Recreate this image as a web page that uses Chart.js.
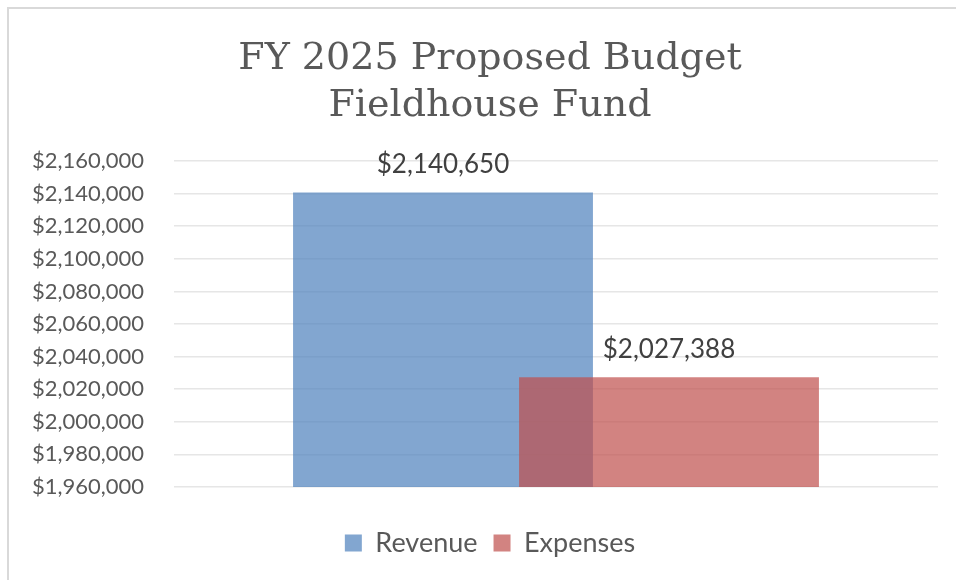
<!DOCTYPE html>
<html>
<head>
<meta charset="utf-8">
<script src="https://cdn.jsdelivr.net/npm/chart.js@4.4.1/dist/chart.umd.min.js"></script>
<style>
  html, body { margin: 0; padding: 0; background: #ffffff; }
  #wrap { position: relative; width: 956px; height: 580px; overflow: hidden; }
  #frame { position: absolute; left: 7px; top: 7px; width: 980px; height: 600px;
           border-left: 2px solid #d9d9d9; border-top: 2px solid #d9d9d9; pointer-events: none; }
  canvas { position: absolute; left: 0; top: 0; }
</style>
</head>
<body>
<div id="wrap">
  <canvas id="c" width="956" height="580"></canvas>
  <div id="frame"></div>
</div>
<script>
// ---- data ----
const categories = ['FY 2025'];
const seriesNames = ['Revenue', 'Expenses'];
const revenueValues = [2140650];
const expenseValues = [2027388];
const titleLines = ['FY 2025 Proposed Budget', 'Fieldhouse Fund'];
const yMin = 1960000;
const yMax = 2160000;
const yStep = 20000;

const fmt = v => '$' + Math.round(v).toLocaleString('en-US');

// let the y tick labels use the space left of the axis box (no clipping)
const widenYLabelArea = {
  id: 'widenYLabelArea',
  afterLayout(chart) {
    chart.scales.y.left = 0;
  }
};

// draw datasets in index order so Expenses sits on top of Revenue
const drawInIndexOrder = {
  id: 'drawInIndexOrder',
  beforeDatasetsDraw(chart) {
    const metas = chart.getSortedVisibleDatasetMetas().slice().sort((a, b) => a.index - b.index);
    const ctx = chart.ctx;
    const area = chart.chartArea;
    ctx.save();
    ctx.beginPath();
    ctx.rect(area.left, area.top, area.right - area.left, area.bottom - area.top);
    ctx.clip();
    for (const m of metas) m.controller.draw();
    ctx.restore();
    return false;
  }
};

const valueLabels = {
  id: 'valueLabels',
  afterDraw(chart) {
    const ctx = chart.ctx;
    ctx.save();
    ctx.font = '26px Lato';
    ctx.fillStyle = '#404040';
    ctx.textAlign = 'center';
    ctx.textBaseline = 'middle';
    chart.data.datasets.forEach((ds, i) => {
      const meta = chart.getDatasetMeta(i);
      meta.data.forEach((el, j) => {
        ctx.fillText(fmt(ds.data[j]), el.x, el.y - 28);
      });
    });
    ctx.restore();
  }
};

new Chart(document.getElementById('c'), {
  type: 'bar',
  data: {
    labels: categories,
    datasets: [
      {
        label: seriesNames[0],
        data: revenueValues,
        backgroundColor: 'rgba(79,129,189,0.71)',
        borderWidth: 0,
        categoryPercentage: 0.5916,
        barPercentage: 1.327
      },
      {
        label: seriesNames[1],
        data: expenseValues,
        backgroundColor: 'rgba(192,80,77,0.71)',
        borderWidth: 0,
        categoryPercentage: 0.5916,
        barPercentage: 1.327
      }
    ]
  },
  options: {
    responsive: false,
    animation: false,
    layout: { padding: { left: 42, right: 18, top: 0, bottom: 13.5 } },
    plugins: {
      tooltip: { enabled: false },
      title: {
        display: true,
        text: titleLines,
        color: '#595959',
        font: { family: 'DejaVu Serif', size: 38, weight: 'normal', lineHeight: 1.237 },
        padding: { top: 35.5, bottom: 31.5 }
      },
      legend: {
        position: 'bottom',
        labels: {
          boxWidth: 17,
          boxHeight: 17,
          padding: 16,
          color: '#595959',
          font: { family: 'Lato', size: 27 }
        }
      }
    },
    scales: {
      x: {
        ticks: { display: false },
        grid: { display: false },
        border: { display: false },
        afterFit(scale) { scale.height = 26.5; }
      },
      y: {
        min: yMin,
        max: yMax,
        ticks: {
          stepSize: yStep,
          padding: 30,
          color: '#595959',
          font: { family: 'Lato', size: 22 },
          callback: v => fmt(v)
        },
        grid: { color: '#e6e6e6', lineWidth: 1.5, drawTicks: false },
        border: { display: false },
        afterFit(scale) { scale.width = 132; }
      }
    }
  },
  plugins: [widenYLabelArea, drawInIndexOrder, valueLabels]
});
</script>
</body>
</html>
